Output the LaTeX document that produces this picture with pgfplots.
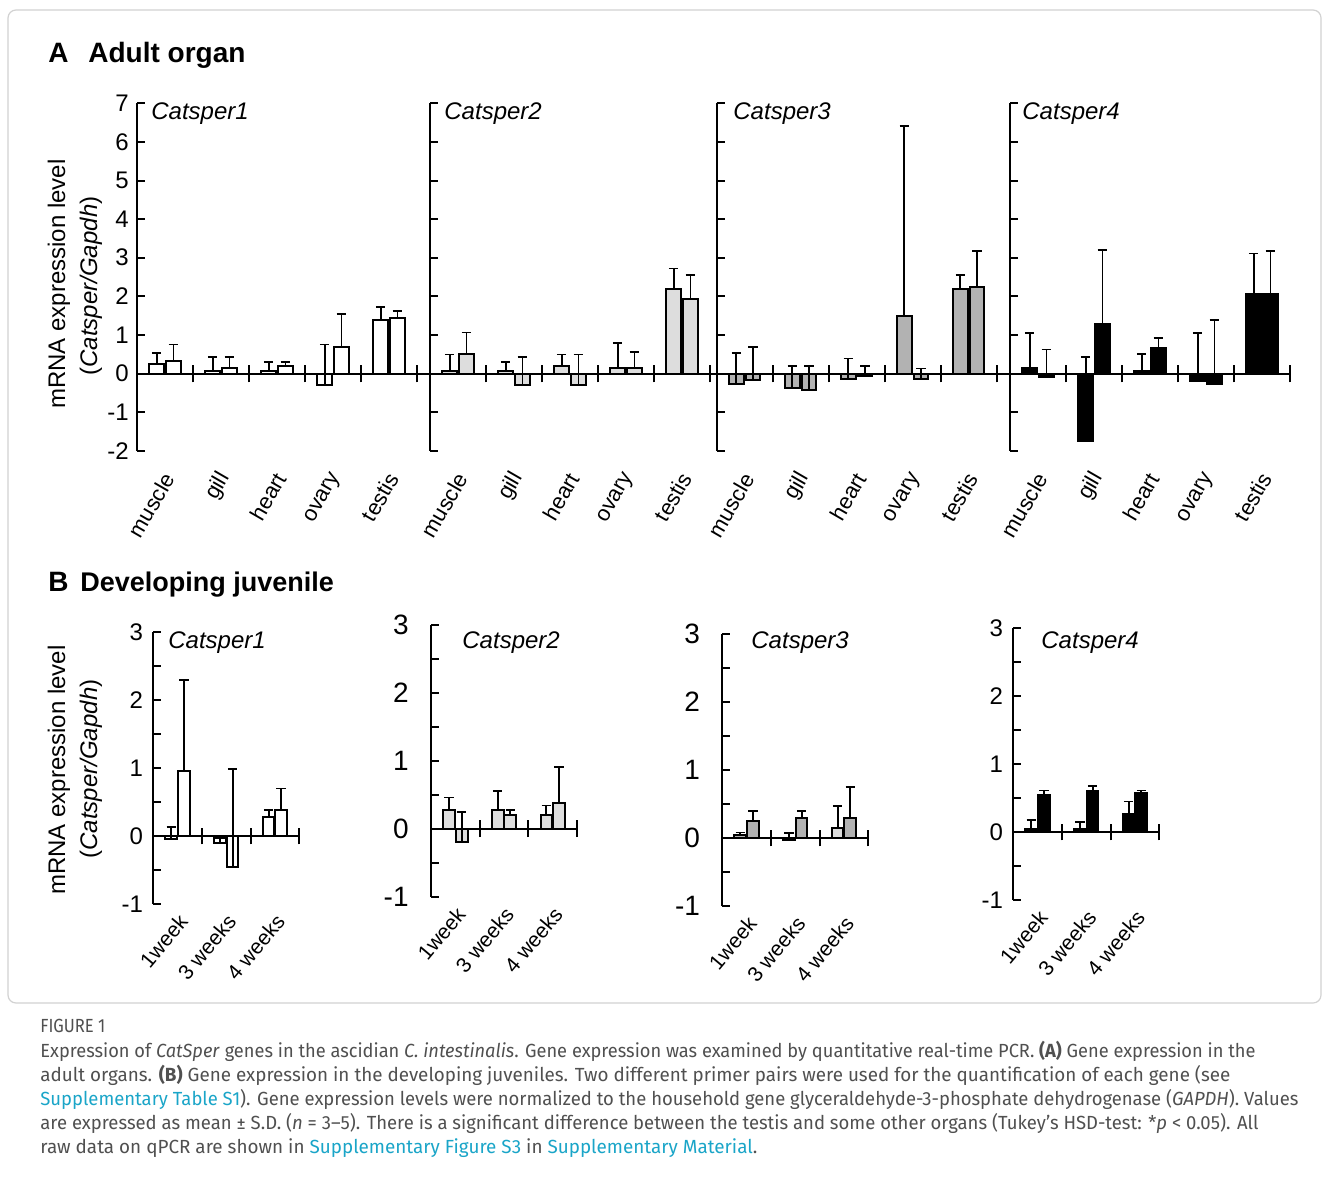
\documentclass[border=0pt]{standalone}
\usepackage{pgfplots}
\pgfplotsset{compat=1.18}
\usepackage{fontspec}
\usepackage{graphicx}
\setmainfont{Liberation Sans}
\newfontfamily\capfont{Fira Sans}
\definecolor{capgray}{HTML}{505050}
\definecolor{link}{HTML}{1AA5C8}
\definecolor{lgray}{HTML}{DDDDDD}
\definecolor{mgray}{HTML}{B2B2B2}
\pgfplotsset{
  base/.style={scale only axis, anchor=south west,
    axis x line=middle, axis y line=left,
    axis line style={-, line width=1pt, black},
    every inner x axis line/.append style={-},
    every outer y axis line/.append style={-},
    every outer x axis line/.append style={-},
    every inner y axis line/.append style={-},
    xtick=\empty, tick align=inside,
    major tick length=4pt, minor tick length=4pt,
    tick style={line width=1pt, black},
    clip=false,
    yticklabel style={font=\fontsize{12}{12}\selectfont, inner sep=2pt},
  },
  panA/.style={base, width=140pt, height=173.7pt, xmin=0, xmax=5, ymin=-2, ymax=7,
    ytick={-2,-1,0,1,2,3,4,5,6,7}, yticklabels={}},
  panB/.style={base, width=73pt, height=136pt, xmin=0, xmax=3, ymin=-1, ymax=3,
    ytick={-1,0,1,2,3}, minor ytick={-0.5,0.5,1.5,2.5},
    yticklabels={-1,0,1,2,3}},
  eb/.style={ybar, bar width=#1, bar shift=0pt, draw=black, line width=1pt,
    error bars/y dir=plus, error bars/y explicit,
    error bars/error bar style={line width=0.9pt, black, solid},
    error bars/error mark options={rotate=90, line width=0.9pt, mark size=2.4pt, black, solid}},
}
\tikzset{
  catA/.style={rotate=60, anchor=east, inner sep=1pt, font=\fontsize{11}{11}\selectfont},
  catB/.style={rotate=50, anchor=east, inner sep=1pt, font=\fontsize{10.5}{10.5}\selectfont},
}
\newcommand{\sepA}{\pgfplotsinvokeforeach{1,2,3,4,5}{\draw[line width=1pt] ([yshift=-4.4pt]axis cs:##1,0) -- ([yshift=4.4pt]axis cs:##1,0);}}
\newcommand{\sepB}{\pgfplotsinvokeforeach{1,2,3}{\draw[line width=1pt] ([yshift=-4.2pt]axis cs:##1,0) -- ([yshift=4.2pt]axis cs:##1,0);}}
\newcommand{\labA}{%
  \node[catA] at ([xshift=2.5pt,yshift=-11pt]axis cs:0.5,-2) {muscle};
  \node[catA] at ([xshift=2.5pt,yshift=-11pt]axis cs:1.5,-2) {gill};
  \node[catA] at ([xshift=2.5pt,yshift=-11pt]axis cs:2.5,-2) {heart};
  \node[catA] at ([xshift=2.5pt,yshift=-11pt]axis cs:3.5,-2) {ovary};
  \node[catA] at ([xshift=2.5pt,yshift=-11pt]axis cs:4.5,-2) {testis};}
\newcommand{\labB}{%
  \node[catB] at ([xshift=3.5pt,yshift=-6pt]axis cs:0.5,-1) {1week};
  \node[catB] at ([xshift=3.5pt,yshift=-6pt]axis cs:1.5,-1) {3 weeks};
  \node[catB] at ([xshift=3.5pt,yshift=-6pt]axis cs:2.5,-1) {4 weeks};}
\begin{document}
\begin{tikzpicture}[x=0.5pt,y=-0.5pt]
\path[use as bounding box, fill=white] (0,0) rectangle (1331,1176);
\draw[gray!35, line width=0.6pt, rounded corners=4pt] (8,10) rectangle (1321,1003);

% titles
\node[anchor=base west, inner sep=0pt, font=\fontsize{14}{14}\selectfont\bfseries] at (48,63) {A};
\node[anchor=base west, inner sep=0pt, font=\fontsize{14}{14}\selectfont\bfseries] at (88,63) {Adult organ};
\node[anchor=base west, inner sep=0pt, font=\fontsize{14}{14}\selectfont\bfseries] at (48,591) {B};
\node[anchor=base west, inner sep=0pt, font=\fontsize{13.5}{14}\selectfont\bfseries] at (80,591) {Developing juvenile};

% y labels
\node[rotate=90, font=\fontsize{12}{12}\selectfont] at (59,284) {mRNA expression level};
\node[rotate=90, font=\fontsize{12}{12}\selectfont] at (91,286) {(\textit{Catsper/Gapdh})};
\node[rotate=90, font=\fontsize{12}{12}\selectfont] at (59,770) {mRNA expression level};
\node[rotate=90, font=\fontsize{12}{12}\selectfont] at (91,769) {(\textit{Catsper/Gapdh})};

% ---------- Panel A ----------
\begin{axis}[panA, at={(68.5pt,-225.35pt)}, yticklabels={-2,-1,0,1,2,3,4,5,6,7}, yticklabel style={xshift=-2pt}]
\addplot[eb=0.26, fill=white] coordinates {(0.35,0.24) +- (0,0.30) (1.35,0.07) +- (0,0.36) (2.35,0.07) +- (0,0.23) (3.35,-0.30) +- (0,1.05) (4.35,1.38) +- (0,0.35)};
\addplot[eb=0.26, fill=white] coordinates {(0.65,0.32) +- (0,0.43) (1.65,0.13) +- (0,0.30) (2.65,0.19) +- (0,0.11) (3.65,0.69) +- (0,0.86) (4.65,1.44) +- (0,0.17)};
\sepA \labA
\end{axis}
\begin{axis}[panA, at={(215pt,-225.35pt)}]
\addplot[eb=0.26, fill=lgray] coordinates {(0.35,0.06) +- (0,0.43) (1.35,0.06) +- (0,0.24) (2.35,0.19) +- (0,0.30) (3.35,0.13) +- (0,0.67) (4.35,2.18) +- (0,0.54)};
\addplot[eb=0.26, fill=lgray] coordinates {(0.65,0.50) +- (0,0.56) (1.65,-0.30) +- (0,0.73) (2.65,-0.30) +- (0,0.79) (3.65,0.13) +- (0,0.43) (4.65,1.93) +- (0,0.62)};
\draw[line width=1pt] (axis cs:0,0) -- ([xshift=-6.5pt]axis cs:0,0);
\sepA \labA
\end{axis}
\begin{axis}[panA, at={(358.35pt,-225.35pt)}]
\addplot[eb=0.26, fill=mgray] coordinates {(0.35,-0.26) +- (0,0.80) (1.35,-0.37) +- (0,0.56) (2.35,-0.13) +- (0,0.52) (3.35,1.49) +- (0,4.92) (4.35,2.18) +- (0,0.37)};
\addplot[eb=0.26, fill=mgray] coordinates {(0.65,-0.17) +- (0,0.86) (1.65,-0.43) +- (0,0.62) (2.65,-0.06) +- (0,0.25) (3.65,-0.13) +- (0,0.26) (4.65,2.25) +- (0,0.92)};
\draw[line width=1pt] (axis cs:0,0) -- ([xshift=-3.4pt]axis cs:0,0);
\sepA \labA
\end{axis}
\begin{axis}[panA, at={(505pt,-225.35pt)}]
\addplot[eb=0.26, fill=black] coordinates {(0.35,0.15) +- (0,0.90) (1.35,-1.75) +- (0,2.18) (2.35,0.07) +- (0,0.43) (3.35,-0.20) +- (0,1.25) (4.35,2.07) +- (0,1.04)};
\addplot[eb=0.26, fill=black] coordinates {(0.65,-0.09) +- (0,0.71) (1.65,1.27) +- (0,1.94) (2.65,0.65) +- (0,0.28) (3.65,-0.28) +- (0,1.66) (4.65,2.07) +- (0,1.10)};
\draw[line width=1pt] (axis cs:0,0) -- ([xshift=-6.6pt]axis cs:0,0);
\sepA \labA
\end{axis}

% ---------- Panel B ----------
\begin{axis}[panB, at={(76.65pt,-452pt)}, yticklabel style={xshift=-3pt}]
\addplot[eb=0.24, fill=white] coordinates {(0.37,-0.04) +- (0,0.17) (1.37,-0.11) +- (0,0.08) (2.37,0.28) +- (0,0.10)};
\addplot[eb=0.24, fill=white] coordinates {(0.63,0.96) +- (0,1.33) (1.63,-0.46) +- (0,1.44) (2.63,0.38) +- (0,0.32)};
\sepB \labB
\end{axis}
\begin{axis}[panB, at={(215.5pt,-448.35pt)}, yticklabel style={font=\fontsize{14}{14}\selectfont, xshift=-9pt}]
\addplot[eb=0.24, fill=lgray] coordinates {(0.37,0.27) +- (0,0.19) (1.37,0.27) +- (0,0.29) (2.37,0.20) +- (0,0.14)};
\addplot[eb=0.24, fill=lgray] coordinates {(0.63,-0.19) +- (0,0.43) (1.63,0.20) +- (0,0.07) (2.63,0.38) +- (0,0.53)};
\sepB \labB
\end{axis}
\begin{axis}[panB, at={(361.15pt,-453pt)}, yticklabel style={font=\fontsize{14}{14}\selectfont, xshift=-9pt}]
\addplot[eb=0.24, fill=mgray] coordinates {(0.37,0.04) +- (0,0.04) (1.37,-0.03) +- (0,0.10)};
\addplot[eb=0.24, fill=lgray] coordinates {(2.37,0.15) +- (0,0.32)};
\addplot[eb=0.24, fill=mgray] coordinates {(0.63,0.25) +- (0,0.15) (1.63,0.30) +- (0,0.10) (2.63,0.30) +- (0,0.45)};
\sepB \labB
\end{axis}
\begin{axis}[panB, at={(506.65pt,-450pt)}, yticklabel style={xshift=-3pt}]
\addplot[eb=0.24, fill=black] coordinates {(0.37,0.04) +- (0,0.14) (1.37,0.04) +- (0,0.11) (2.37,0.26) +- (0,0.19)};
\addplot[eb=0.24, fill=black] coordinates {(0.63,0.54) +- (0,0.07) (1.63,0.61) +- (0,0.07) (2.63,0.58) +- (0,0.03)};
\sepB \labB
\end{axis}

% gene labels
\begin{scope}[every node/.style={anchor=west, inner sep=0pt, font=\fontsize{12}{12}\selectfont\itshape}]
\node at (151,114) {Catsper1};
\node at (444,114) {Catsper2};
\node at (733,114) {Catsper3};
\node at (1022,114) {Catsper4};
\node at (168,643) {Catsper1};
\node at (462,643) {Catsper2};
\node at (751,643) {Catsper3};
\node at (1041,643) {Catsper4};
\end{scope}

% caption
\begin{scope}[every node/.style={anchor=base west, inner sep=0pt, text=capgray, font=\capfont\fontsize{9.5}{11}\selectfont}]
\node at (40,1032) {\resizebox{32.5pt}{\height}{FIGURE 1}};
\node at (40,1057) {\resizebox{607.5pt}{\height}{Expression of \textit{CatSper} genes in the ascidian \textit{C. intestinalis}. Gene expression was examined by quantitative real-time PCR. \textbf{(A)} Gene expression in the}};
\node at (40,1081) {\resizebox{595pt}{\height}{adult organs. \textbf{(B)} Gene expression in the developing juveniles. Two different primer pairs were used for the quantification of each gene (see}};
\node at (40,1105) {\resizebox{629pt}{\height}{{\color{link}Supplementary Table S1}). Gene expression levels were normalized to the household gene glyceraldehyde-3-phosphate dehydrogenase (\textit{GAPDH}). Values}};
\node at (40,1129) {\resizebox{609pt}{\height}{are expressed as mean ± S.D. (\textit{n} = 3–5). There is a significant difference between the testis and some other organs (Tukey’s HSD-test: *\textit{p} < 0.05). All}};
\node at (40,1153) {\resizebox{358.5pt}{\height}{raw data on qPCR are shown in {\color{link}Supplementary Figure S3} in {\color{link}Supplementary Material}.}};
\end{scope}
\end{tikzpicture}
\end{document}
